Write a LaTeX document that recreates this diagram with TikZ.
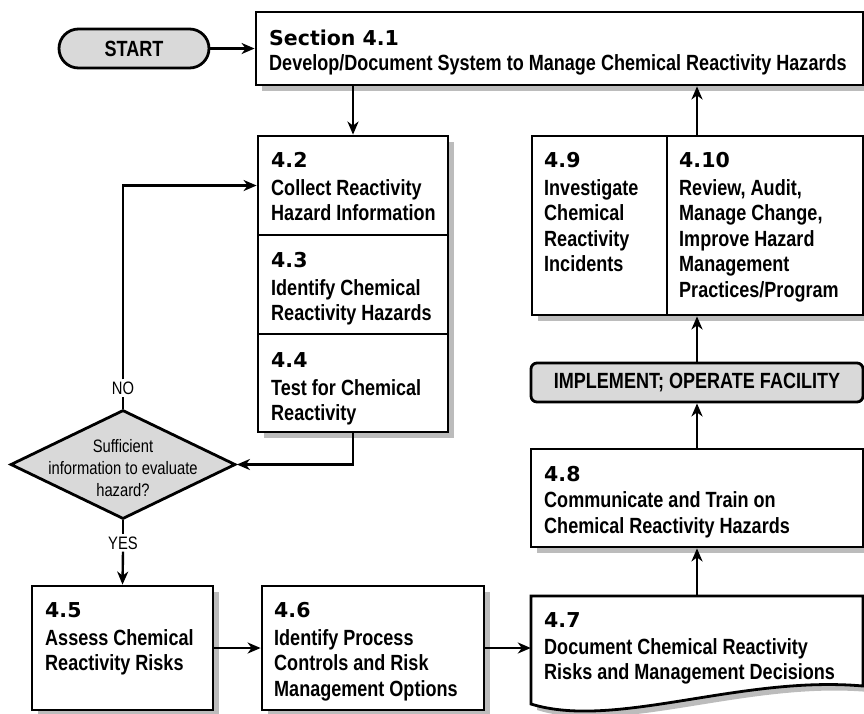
\documentclass[tikz,border=0pt]{standalone}
\usepackage{fontspec}
\newfontfamily\bodyfont{Liberation Sans}[FakeStretch=0.82]
\newfontfamily\numfont{DejaVu Sans}
\usetikzlibrary{arrows.meta,shapes.geometric,shapes.misc,shadows}
\definecolor{boxgray}{RGB}{217,217,217}
\definecolor{shadowgray}{RGB}{188,188,188}

% one line of a box label: section number, or a line of bold text
\newcommand\numln[1]{\hbox{\numfont\bfseries\fontsize{20.5}{25.5}\selectfont #1}}
\newcommand\txtln[1]{\hbox{\bodyfont\bfseries\fontsize{22}{25.5}\selectfont #1}}
% stack of lines whose baseline is the first line's baseline
\newcommand\txtstack[2][2.5pt]{\vtop{\baselineskip=25.5pt\lineskiplimit=-100pt\lineskip=0pt
  \def\gapafter{\kern#1}#2}}
\newcommand\headln[1]{\numln{#1}\gapafter}

\tikzset{
  box/.style={draw, rectangle, line width=2.8pt, fill=white, inner sep=0pt,
    drop shadow={shadow xshift=6pt, shadow yshift=-6pt, fill=shadowgray, opacity=1}},
  greybox/.style={draw, line width=2.8pt, fill=boxgray, inner sep=0pt,
    font=\bodyfont\bfseries\fontsize{22}{25}\selectfont},
  txt/.style={anchor=base west, inner sep=0pt},
  qtext/.style={align=center, inner sep=0pt,
    font=\bodyfont\fontsize{18}{22}\selectfont},
  lbl/.style={fill=white, inner sep=2pt, font=\bodyfont\fontsize{18}{20}\selectfont},
  lnk/.style={line width=2.4pt},
  arr/.style={line width=2.4pt, -{Stealth[length=13pt,width=11pt,inset=4pt]}},
}

\begin{document}
\begin{tikzpicture}[x=1pt, y=-1pt]
\useasboundingbox (0,0) rectangle (864,713);

% start terminal and top section
\node[greybox, rounded rectangle, minimum width=150pt, minimum height=39pt] (start) at (134,48.5) {START};
\node[box, minimum width=607pt, minimum height=73pt] (s41) at (559.5,48.5) {};
\node[txt] (t41) at (269,45) {\txtstack[0pt]{\headln{Section 4.1}\txtln{Develop/Document System to Manage Chemical Reactivity Hazards}}};

% information gathering stack
\node[box, minimum width=190pt, minimum height=99pt] (s42) at (353,185.5) {};
\node[box, minimum width=190pt, minimum height=99pt] (s43) at (353,284.5) {};
\node[box, minimum width=190pt, minimum height=98pt] (s44) at (353,383) {};
\node[txt] (t42) at (271,167) {\txtstack{\headln{4.2}\txtln{Collect Reactivity}\txtln{Hazard Information}}};
\node[txt] (t43) at (271,267) {\txtstack{\headln{4.3}\txtln{Identify Chemical}\txtln{Reactivity Hazards}}};
\node[txt] (t44) at (271,367) {\txtstack{\headln{4.4}\txtln{Test for Chemical}\txtln{Reactivity}}};

% decision
\node[diamond, draw, line width=2.8pt, fill=boxgray, inner sep=0pt,
      minimum width=225pt, minimum height=109pt] (dia) at (123,464.5) {};
\node[qtext] (dtext) at (123,468) {Sufficient\\information to evaluate\\hazard?};
\node[lbl] (no) at (123,388) {NO};
\node[lbl] (yes) at (123,543) {YES};

% bottom row
\node[box, minimum width=181pt, minimum height=124pt] (s45) at (122.5,648) {};
\node[box, minimum width=222pt, minimum height=124pt] (s46) at (373,648) {};
\node[txt] (t45) at (45,617) {\txtstack{\headln{4.5}\txtln{Assess Chemical}\txtln{Reactivity Risks}}};
\node[txt] (t46) at (274,617) {\txtstack{\headln{4.6}\txtln{Identify Process}\txtln{Controls and Risk}\txtln{Management Options}}};

% document shape
\path[fill=shadowgray, shift={(6,6)}] (531,596) -- (863,596) -- (863,686)
  .. controls (740,675) and (615,730) .. (531,704) -- cycle;
\draw[line width=2.8pt, fill=white] (531,596) -- (863,596) -- (863,686)
  .. controls (740,675) and (615,730) .. (531,704) -- cycle;
\node[rectangle, inner sep=0pt, minimum width=332pt, minimum height=108pt] (s47) at (697,650) {};
\node[txt] (t47) at (544,627) {\txtstack[1.5pt]{\headln{4.7}\txtln{Document Chemical Reactivity}\txtln{Risks and Management Decisions}}};

% right column
\node[box, minimum width=332pt, minimum height=98pt] (s48) at (697,498) {};
\node[txt] (t48) at (544,481) {\txtstack[1pt]{\headln{4.8}\txtln{Communicate and Train on}\txtln{Chemical Reactivity Hazards}}};
\node[greybox, rounded corners=6pt, minimum width=332pt, minimum height=39pt] (impl) at (697,382.5) {IMPLEMENT; OPERATE FACILITY};
\node[box, minimum width=135pt, minimum height=179pt] (s49) at (599.5,225.5) {};
\node[box, minimum width=196pt, minimum height=179pt] (s410) at (765,225.5) {};
\node[txt] (t49) at (544,167) {\txtstack{\headln{4.9}\txtln{Investigate}\txtln{Chemical}\txtln{Reactivity}\txtln{Incidents}}};
\node[txt] (t410) at (679,167) {\txtstack{\headln{4.10}\txtln{Review, Audit,}\txtln{Manage Change,}\txtln{Improve Hazard}\txtln{Management}\txtln{Practices/Program}}};

% connectors
\draw[arr] (start.east) -- (s41.west |- start.east);
\draw[arr] (s41.south -| s42.north) -- (s42.north);
\draw[arr] (s44.south) |- (dia.east);
\draw[lnk] (dia.north) -- (no.south);
\draw[arr] (no.north) |- (s42.west);
\draw[lnk] (dia.south) -- (yes.north);
\draw[arr] (yes.south) -- (s45.north);
\draw[arr] (s45.east) -- (s46.west);
\draw[arr] (s46.east) -- (s46.east -| s47.west);
\draw[arr] (s47.north) -- (s48.south);
\draw[arr] (s48.north) -- (impl.south);
\draw[arr] (impl.north) -- (impl.north |- s410.south);
\draw[arr] (impl.north |- s410.north) -- (impl.north |- s41.south);
\end{tikzpicture}
\end{document}
